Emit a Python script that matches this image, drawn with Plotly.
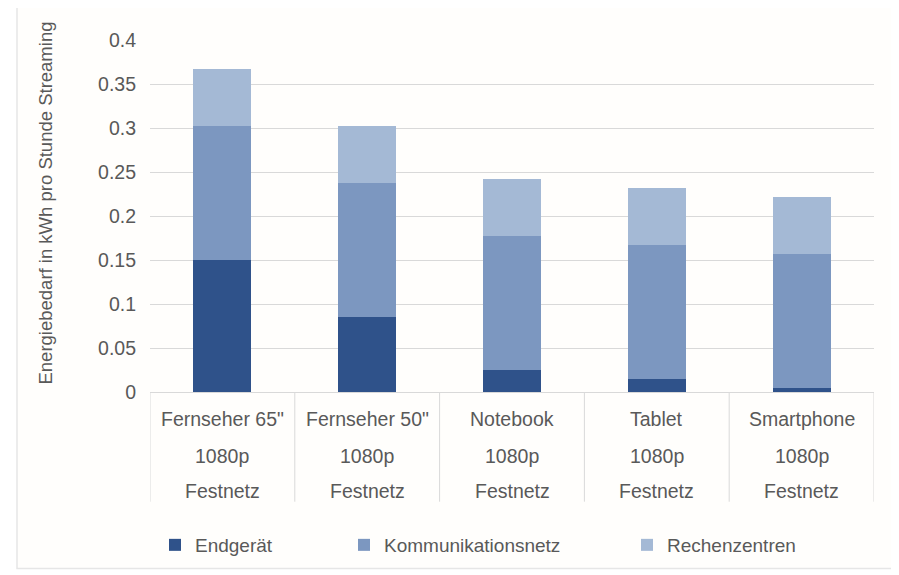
import plotly.graph_objects as go

categories = ['Fernseher 65"', 'Fernseher 50"', 'Notebook', 'Tablet', 'Smartphone']
label_line2 = ['1080p', '1080p', '1080p', '1080p', '1080p']
label_line3 = ['Festnetz', 'Festnetz', 'Festnetz', 'Festnetz', 'Festnetz']
series_names = ['Endgerät', 'Kommunikationsnetz', 'Rechenzentren']
endgeraet = [0.150, 0.085, 0.025, 0.015, 0.005]
kommunikationsnetz = [0.152, 0.152, 0.152, 0.152, 0.152]
rechenzentren = [0.065, 0.065, 0.065, 0.065, 0.065]
y_ticks = [0, 0.05, 0.1, 0.15, 0.2, 0.25, 0.3, 0.35, 0.4]
y_ticktext = ['0', '0.05', '0.1', '0.15', '0.2', '0.25', '0.3', '0.35', '0.4']
y_title = 'Energiebedarf in kWh pro Stunde Streaming'

colors = ['#2F528A', '#7C97C0', '#A4B9D5']
values = [endgeraet, kommunikationsnetz, rechenzentren]
legend_ids = ['legend2', 'legend3', 'legend4']
legend_x_px = [147, 336, 619]   # figure px (page px - 8 body margin)

FONT = 'Liberation Sans, Arial, sans-serif'
GRAY = '#595959'
W, H = 891, 567
L, R, T, B = 142, 25, 32, 182
pw, ph = W - L - R, H - T - B

fig = go.Figure()
for name, vals, col, lg in zip(series_names, values, colors, legend_ids):
    fig.add_trace(go.Bar(x=list(range(len(categories))), y=vals, name=name,
                         marker=dict(color=col, line=dict(width=0)),
                         legend=lg, hoverinfo='y+name'))

layout_legends = {}
for lg, px in zip(legend_ids, legend_x_px):
    layout_legends[lg] = dict(x=(px - L) / pw, y=(H - B - 537) / ph, xanchor='left',
                              yanchor='middle', orientation='h', bgcolor='rgba(0,0,0,0)',
                              visible=True,
                              font=dict(family=FONT, size=19, color=GRAY))

shapes = []
for i in range(len(categories) + 1):
    shapes.append(dict(type='line', xref='x', yref='paper', x0=i - 0.5, x1=i - 0.5,
                       y0=0, y1=-110 / ph, line=dict(color='#D9D9D9', width=1)))
shapes.append(dict(type='rect', xref='paper', yref='paper', layer='below',
                   x0=(9 - L) / pw, x1=(905 - L) / pw, y0=(H - B - 562) / ph, y1=(H - B + 30) / ph,
                   line=dict(color='#E6E6E6', width=1.5), fillcolor='#FFFEFC'))

annotations = []
for i, (a, b, c) in enumerate(zip(categories, label_line2, label_line3)):
    for text, off in ((a, 27), (b, 64), (c, 99)):
        annotations.append(dict(x=i, y=0, xref='x', yref='paper', text=text, showarrow=False,
                                yshift=-off, yanchor='middle', xanchor='center',
                                font=dict(family=FONT, size=19.5, color=GRAY)))
annotations.append(dict(x=(38 - L) / pw, y=(H - B - 196) / ph, xref='paper', yref='paper',
                        text=y_title, showarrow=False, textangle=-90,
                        xanchor='center', yanchor='middle',
                        font=dict(family=FONT, size=18.5, color=GRAY)))

fig.update_layout(
    width=W, height=H, margin=dict(l=L, r=R, t=T, b=B),
    paper_bgcolor='white', plot_bgcolor='rgba(0,0,0,0)',
    barmode='stack', bargap=0.6, showlegend=True,
    font=dict(family=FONT, size=19, color=GRAY),
    xaxis=dict(range=[-0.5, len(categories) - 0.5], showticklabels=False, showgrid=False,
               zeroline=False, showline=True, linecolor='#D9D9D9', linewidth=1, ticks=''),
    yaxis=dict(range=[0, 0.4], tickvals=y_ticks, ticktext=y_ticktext, showgrid=True,
               gridcolor='#D9D9D9', gridwidth=1, zeroline=False, ticks='',
               ticklabelstandoff=13,
               tickfont=dict(family=FONT, size=19.5, color=GRAY)),
    legend=dict(visible=False),
    shapes=shapes, annotations=annotations,
    **layout_legends,
)

fig.write_html('out.html')
